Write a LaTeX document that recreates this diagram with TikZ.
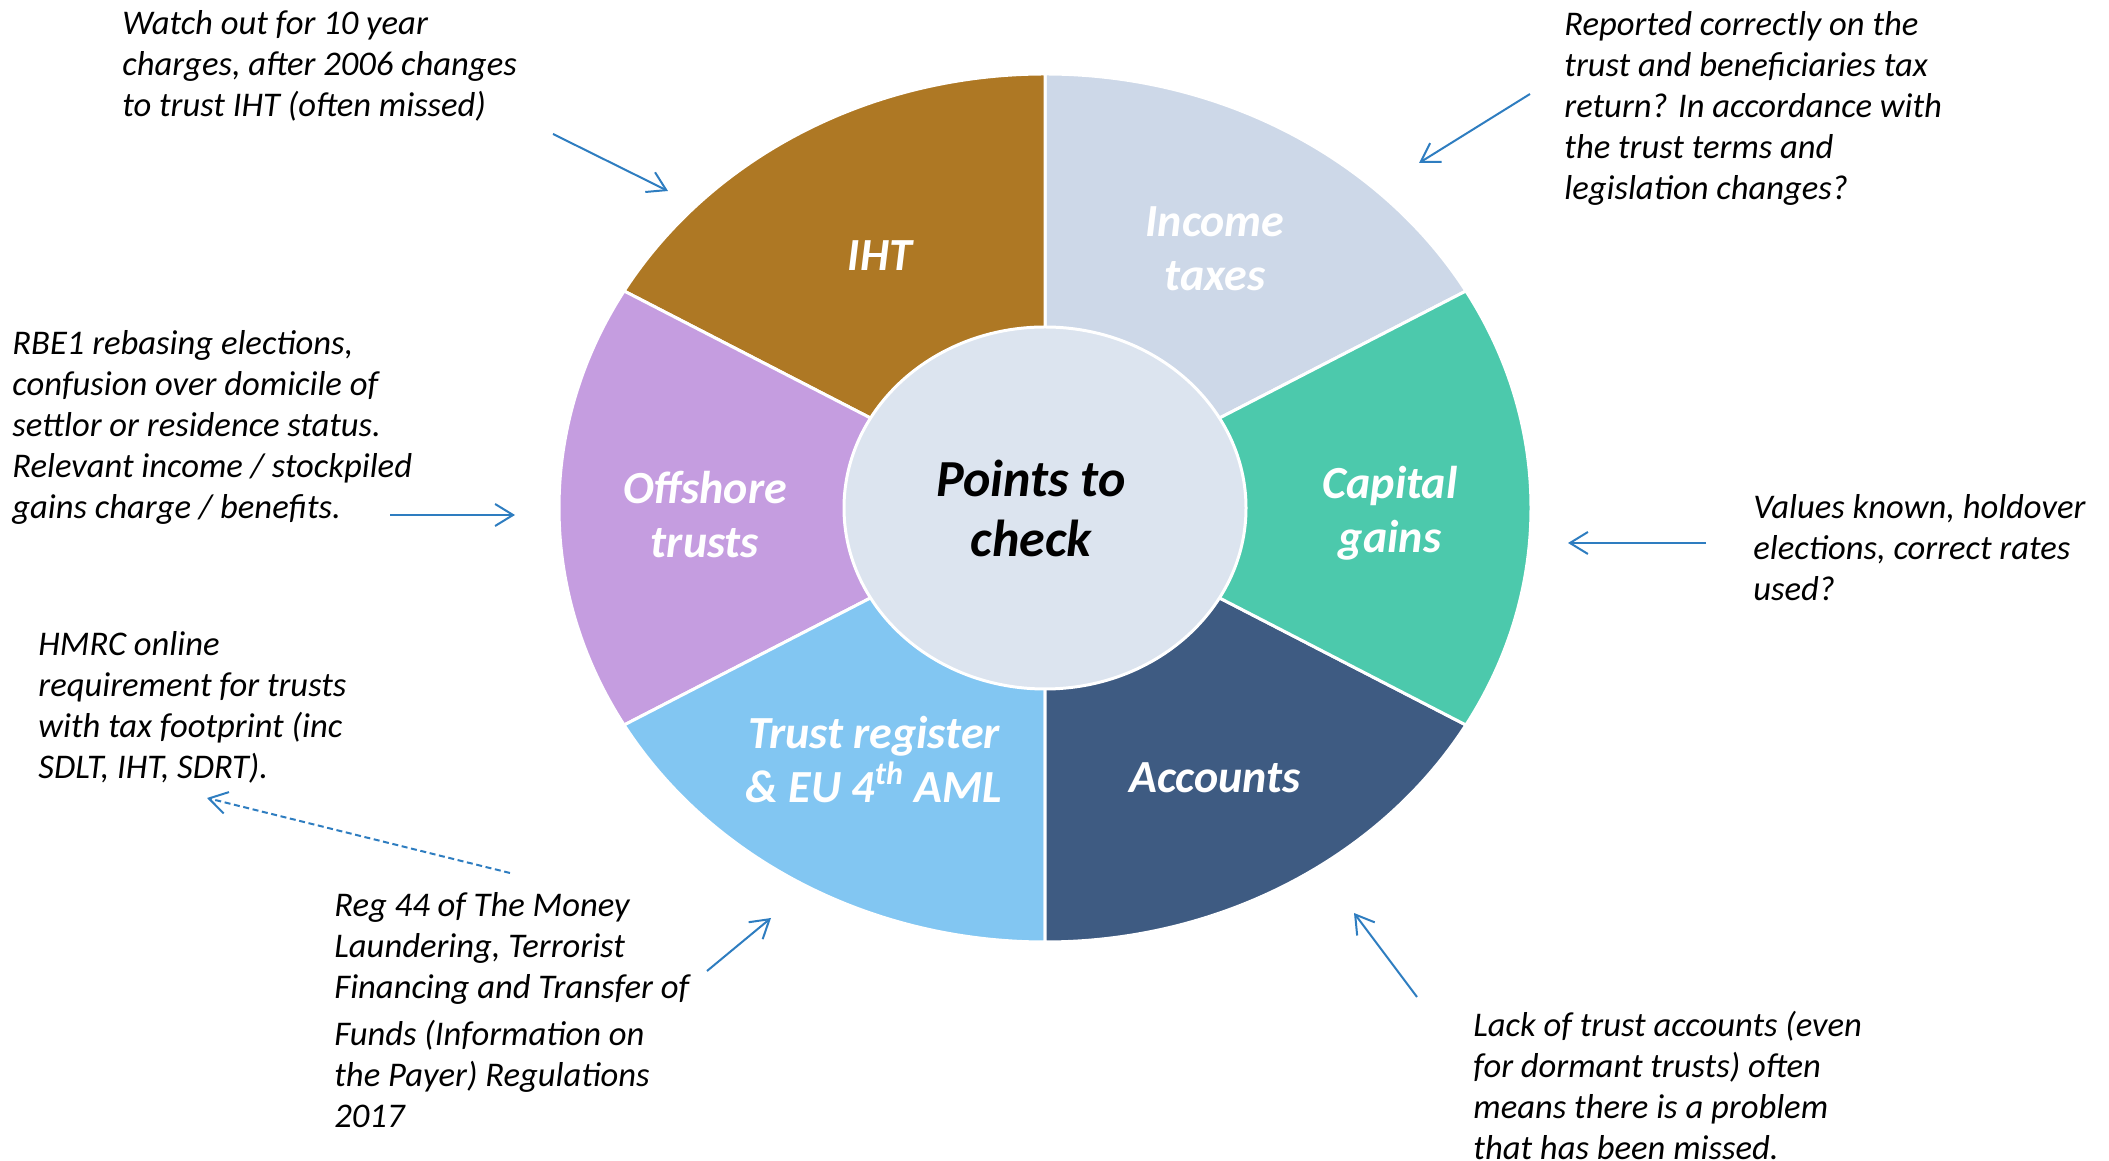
\documentclass[tikz,border=0pt]{standalone}
\usepackage{fontspec}
\setmainfont{Carlito}
\usepackage{xcolor}
\usetikzlibrary{arrows.meta}

\definecolor{ihtcol}{HTML}{AE7824}
\definecolor{incomecol}{HTML}{CDD8E8}
\definecolor{gainscol}{HTML}{4CC9AC}
\definecolor{accountscol}{HTML}{3E5B82}
\definecolor{registercol}{HTML}{82C6F2}
\definecolor{offshorecol}{HTML}{C59DE0}
\definecolor{hubcol}{HTML}{DCE4EF}
\definecolor{pointercol}{HTML}{2E7DC0}

\begin{document}
\begin{tikzpicture}[x=0.5pt, y=0.5pt,
	seg/.style={draw=white, line width=1.5pt},
	seglabel/.style={text=white, align=center, font=\fontsize{23}{27}\selectfont\bfseries\itshape},
	note/.style={anchor=north west, inner sep=0pt, align=left, font=\fontsize{17.3}{20.5}\selectfont\itshape},
	pointer/.style={draw=pointercol, line width=1pt, -{Straight Barb[length=9pt, width=11pt]}}]
	\useasboundingbox (0,0) rectangle (2109,1161);
	\coordinate (hub) at (1045,653);
	\path[seg, fill=incomecol] (hub) -- ++(30:486 and 434) arc[start angle=30, end angle=90, x radius=486, y radius=434] -- cycle;
	\path[seg, fill=ihtcol] (hub) -- ++(90:486 and 434) arc[start angle=90, end angle=150, x radius=486, y radius=434] -- cycle;
	\path[seg, fill=offshorecol] (hub) -- ++(150:486 and 434) arc[start angle=150, end angle=210, x radius=486, y radius=434] -- cycle;
	\path[seg, fill=registercol] (hub) -- ++(210:486 and 434) arc[start angle=210, end angle=270, x radius=486, y radius=434] -- cycle;
	\path[seg, fill=accountscol] (hub) -- ++(270:486 and 434) arc[start angle=270, end angle=330, x radius=486, y radius=434] -- cycle;
	\path[seg, fill=gainscol] (hub) -- ++(-30:486 and 434) arc[start angle=-30, end angle=30, x radius=486, y radius=434] -- cycle;
	\path[seg, fill=hubcol] (hub) ellipse[x radius=201, y radius=181];
	\node[font=\fontsize{26}{30}\selectfont\bfseries\itshape, align=center] (check) at ([xshift=-7]hub) {Points to\\check};
	\node[seglabel] (iht) at ([shift={(-165,252)}]hub) {IHT};
	\node[seglabel] (income) at ([shift={(170,259)}]hub) {Income\\taxes};
	\node[seglabel] (gains) at ([shift={(345,-5)}]hub) {Capital\\gains};
	\node[seglabel] (accounts) at ([shift={(170,-270)}]hub) {Accounts};
	\node[seglabel] (register) at ([shift={(-171,-252)}]hub) {Trust register\\\& EU 4\textsuperscript{th} AML};
	\node[seglabel] (offshore) at ([shift={(-340,-7)}]hub) {Offshore\\trusts};

	\node[note] (iht-note) at (122,1151) {Watch out for 10 year\\charges, after 2006 changes\\to trust IHT (often missed)};
	\node[note] (income-note) at (1564,1150) {Reported correctly on the\\trust and beneficiaries tax\\return? In accordance with\\the trust terms and\\legislation changes?};
	\node[note] (offshore-note) at (12,831) {RBE1 rebasing elections,\\confusion over domicile of\\settlor or residence status.\\Relevant income / stockpiled\\gains charge / benefits.};
	\node[note] (gains-note) at (1753,667) {Values known, holdover\\elections, correct rates\\used?};
	\node[note] (hmrc-note) at (38,530) {HMRC online\\requirement for trusts\\with tax footprint (inc\\SDLT, IHT, SDRT).};
	\node[note] (reg-note) at (334,269) {Reg 44 of The Money\\Laundering, Terrorist\\Financing and Transfer of\\[3pt]Funds (Information on\\the Payer) Regulations\\2017};
	\node[note] (accounts-note) at (1473,150) {Lack of trust accounts (even\\for dormant trusts) often\\means there is a problem\\that has been missed.};

	\coordinate (iht-from) at (553,1027);
	\coordinate (iht-to) at (668,970);
	\coordinate (income-from) at (1530,1067);
	\coordinate (income-to) at (1419,998);
	\coordinate (offshore-from) at (390,646);
	\coordinate (offshore-to) at (515,646);
	\coordinate (gains-from) at (1706,618);
	\coordinate (gains-to) at (1568,618);
	\coordinate (hmrc-from) at (510,288);
	\coordinate (hmrc-to) at (207,363);
	\coordinate (reg-from) at (707,190);
	\coordinate (reg-to) at (771,243);
	\coordinate (accounts-from) at (1417,164);
	\coordinate (accounts-to) at (1354,248);
	\draw[pointer] (iht-from) -- (iht-to);
	\draw[pointer] (income-from) -- (income-to);
	\draw[pointer] (offshore-from) -- (offshore-to);
	\draw[pointer] (gains-from) -- (gains-to);
	\draw[pointer, dash pattern=on 3pt off 1.8pt] (hmrc-from) -- (hmrc-to);
	\draw[pointer] (reg-from) -- (reg-to);
	\draw[pointer] (accounts-from) -- (accounts-to);
\end{tikzpicture}
\end{document}
